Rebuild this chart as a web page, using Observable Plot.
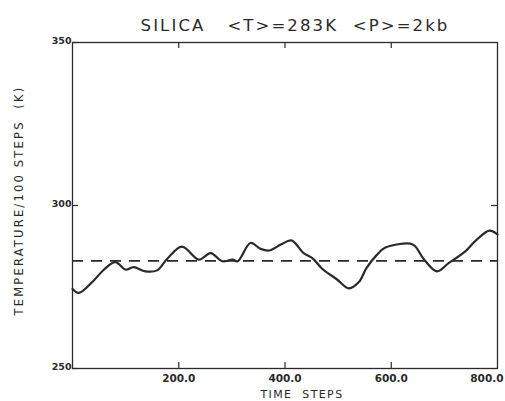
<!DOCTYPE html>
<html>
<head>
<meta charset="utf-8">
<script src="https://cdn.jsdelivr.net/npm/d3@7"></script>
<script src="https://cdn.jsdelivr.net/npm/@observablehq/plot@0.6"></script>
<style>
  html, body { margin: 0; padding: 0; background: #fff; }
  svg text { font-family: "DejaVu Sans", sans-serif; }
</style>
</head>
<body>
<div id="chart"></div>
<script>
const title = "SILICA   <T>=283K  <P>=2kb";
const xLabel = "TIME  STEPS";
const yLabel = "TEMPERATURE/100 STEPS  (K)";
const meanT = 283;
const xInnerTicks = [200, 400, 600];
const xLastTick = [800];
const yTicks = [250, 300, 350];
const yRightTicks = [300];
const steps = [0, 12, 40, 59, 81, 100, 115, 137, 159, 178, 206, 238, 260, 282, 301, 311, 335, 354, 370, 392, 412, 435, 452, 470, 498, 520, 539, 553, 572, 589, 636, 645, 661, 686, 708, 740, 757, 785, 800];
const temps = [274.4, 273.2, 277, 280.3, 282.6, 280.3, 281.1, 279.8, 280.1, 283.6, 287.4, 283.4, 285.4, 282.9, 283.4, 282.9, 288.5, 286.7, 286.2, 288, 289.3, 285.4, 283.8, 280.6, 277.3, 274.6, 276.5, 280.7, 284.7, 287.1, 288.3, 287.5, 283.6, 279.8, 282.3, 286, 288.9, 292.3, 291.1];

const data = steps.map((s, i) => ({step: s, temp: temps[i]}));
const ink = "#2a2a2a";
const W = 505, H = 401, mL = 72, mR = 8, mT = 42, mB = 33;
const innerW = W - mL - mR, innerH = H - mT - mB, tk = 6;

const chart = Plot.plot({
  width: W,
  height: H,
  marginLeft: mL,
  marginRight: mR,
  marginTop: mT,
  marginBottom: mB,
  x: {domain: [0, 800], axis: null},
  y: {domain: [250, 350], axis: null},
  marks: [
    Plot.frame({stroke: ink, strokeWidth: 1.3}),
    Plot.tickX(xInnerTicks, {x: d => d, insetTop: innerH - tk, stroke: ink, strokeWidth: 1.2}),
    Plot.tickX(xInnerTicks, {x: d => d, insetBottom: innerH - tk, stroke: ink, strokeWidth: 1.2}),
    Plot.tickY(yTicks, {y: d => d, insetRight: innerW - tk, stroke: ink, strokeWidth: 1.2}),
    Plot.tickY(yRightTicks, {y: d => d, insetLeft: innerW - tk, stroke: ink, strokeWidth: 1.2}),
    Plot.axisX({ticks: xInnerTicks, anchor: "bottom", tickSize: 0, tickPadding: 6, tickFormat: d3.format(".1f"),
      fontSize: 10.5, fontWeight: "bold", fill: ink, label: null}),
    Plot.axisX({ticks: xLastTick, anchor: "bottom", tickSize: 0, tickPadding: 6, tickFormat: d3.format(".1f"),
      fontSize: 10.5, fontWeight: "bold", fill: ink, label: null, textAnchor: "end", dx: 6}),
    Plot.axisY({ticks: yTicks, anchor: "left", tickSize: 0, tickPadding: 1, dy: -2, tickFormat: d => String(d),
      fontSize: 9.5, fontWeight: "bold", fill: ink, label: null}),
    Plot.text([xLabel], {frameAnchor: "bottom", dy: 26, dx: 17, text: d => d, fontSize: 11, fill: ink,
      lineAnchor: "middle", textAnchor: "middle"}),
    Plot.text([yLabel], {frameAnchor: "left", dx: -53, dy: -5, rotate: -90, text: d => d, fontSize: 11.5, fill: ink,
      textAnchor: "middle", lineAnchor: "middle"}),
    Plot.text([title], {frameAnchor: "top", dy: -17, dx: 10, text: d => d, fontSize: 16.5, fill: ink,
      textAnchor: "middle", lineAnchor: "middle"}),
    Plot.ruleY([meanT], {stroke: ink, strokeWidth: 1.6, strokeDasharray: "11,8"}),
    Plot.line(data, {x: "step", y: "temp", curve: "catmull-rom", stroke: ink, strokeWidth: 2.2})
  ]
});

// letter spacing and preserved spaces for the plotter-style titles
const spacing = new Map([[title, "2.1px"], [yLabel, "2.2px"], [xLabel, "1.4px"]]);
d3.select(chart).selectAll("text").each(function() {
  const t = this.textContent;
  if (spacing.has(t)) {
    this.setAttribute("xml:space", "preserve");
    this.style.whiteSpace = "pre";
    this.style.letterSpacing = spacing.get(t);
  }
});
document.getElementById("chart").appendChild(chart);
</script>
</body>
</html>
